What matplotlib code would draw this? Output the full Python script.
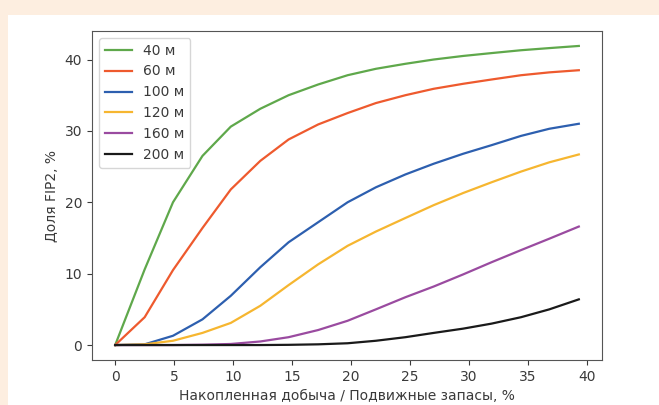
import matplotlib.pyplot as plt
from matplotlib.patches import Rectangle

# Накопленная добыча / подвижные запасы, %
x = [0, 2.5, 4.9, 7.4, 9.8, 12.3, 14.7, 17.2, 19.7, 22.1, 24.6, 27.0, 29.5, 31.9, 34.4, 36.8, 39.3]

# Доля FIP2, % for each spacing
y_40 = [0, 10.6, 20.0, 26.5, 30.6, 33.1, 35.0, 36.5, 37.8, 38.7, 39.4, 40.0, 40.5, 40.9, 41.3, 41.6, 41.9]
y_60 = [0, 3.9, 10.5, 16.4, 21.8, 25.8, 28.8, 30.9, 32.5, 33.9, 35.0, 35.9, 36.6, 37.2, 37.8, 38.2, 38.5]
y_100 = [0, 0.1, 1.3, 3.6, 6.9, 10.9, 14.4, 17.2, 20.0, 22.1, 23.9, 25.4, 26.8, 28.0, 29.3, 30.3, 31.0]
y_120 = [0, 0.1, 0.6, 1.7, 3.1, 5.5, 8.4, 11.3, 13.9, 15.9, 17.8, 19.6, 21.3, 22.8, 24.3, 25.6, 26.7]
y_160 = [0, 0, 0, 0.05, 0.15, 0.5, 1.1, 2.1, 3.4, 5.0, 6.7, 8.2, 9.9, 11.6, 13.3, 14.9, 16.6]
y_200 = [0, 0, 0, 0, 0, 0, 0.03, 0.1, 0.25, 0.6, 1.1, 1.7, 2.3, 3.0, 3.9, 5.0, 6.4]

labels = ['40 м', '60 м', '100 м', '120 м', '160 м', '200 м']
series = [y_40, y_60, y_100, y_120, y_160, y_200]
colors = ['#5fa84b', '#ee5a2e', '#2d5faf', '#f6b630', '#9a4ba0', '#1a1a1a']

txt = '#3a3a3a'
plt.rcParams['font.family'] = ['DejaVu Sans']
plt.rcParams['text.color'] = txt
plt.rcParams['axes.labelcolor'] = txt
plt.rcParams['xtick.color'] = txt
plt.rcParams['ytick.color'] = txt

fig = plt.figure(figsize=(6.59, 4.05), dpi=100)
fig.patch.set_facecolor('#fdeee0')
# white panel behind the axes
fig.add_artist(Rectangle((8 / 659, 0), 1, (405 - 15) / 405,
                         transform=fig.transFigure, facecolor='white',
                         edgecolor='none', zorder=-10))

ax = fig.add_axes([92 / 659, 45 / 405, 510 / 659, 329 / 405])
ax.set_zorder(5)
for ys, lab, c in zip(series, labels, colors):
    ax.plot(x, ys, color=c, lw=1.6, label=lab)

ax.set_xticks([0, 5, 10, 15, 20, 25, 30, 35, 40])
ax.set_yticks([0, 10, 20, 30, 40])
ax.set_xlabel('Накопленная добыча / Подвижные запасы, %')
ax.set_ylabel('Доля FIP2, %')
for s in ax.spines.values():
    s.set_color('#555555')
ax.legend(loc='upper left')

fig.savefig('out.png', dpi=100, facecolor=fig.get_facecolor())
